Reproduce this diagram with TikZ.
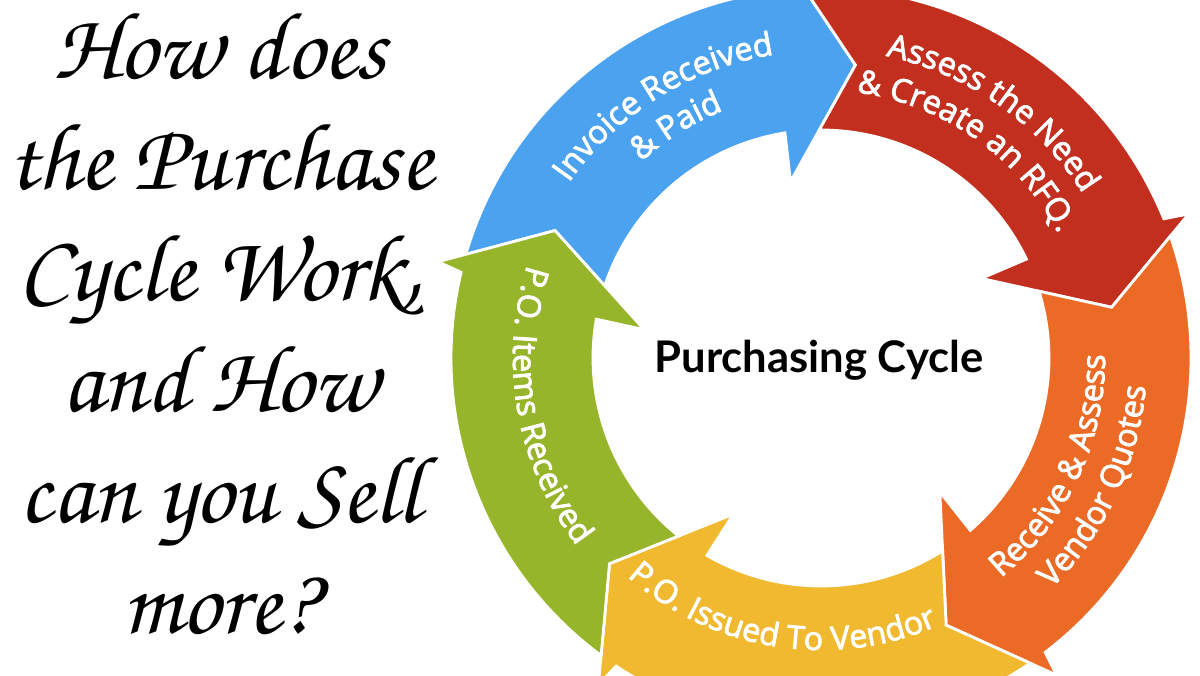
\documentclass[tikz,border=0pt]{standalone}
\usepackage{fontspec}
\usepackage{tikz}
\usetikzlibrary{decorations.text}

\newfontfamily\titlefont{texgyrechorus-mediumitalic.otf}
\newfontfamily\labelfont{Open Sans}[FakeBold=2.5]
\newfontfamily\hubfont{Lato}
\newcommand\arcfont{\labelfont\fontsize{23}{27}\selectfont}

\definecolor{invoiceblue}{HTML}{4BA2EF}
\definecolor{assessred}{HTML}{C32F1E}
\definecolor{quoteorange}{HTML}{EB6B26}
\definecolor{issueyellow}{HTML}{F0B92F}
\definecolor{itemgreen}{HTML}{97B52A}

\begin{document}
\begin{tikzpicture}[
	x = 0.25mm, y = 0.25mm,
	heading/.style = {font=\titlefont\fontsize{68}{79}\selectfont,
		align=center, inner sep=0pt, anchor=north},
	hub/.style     = {font=\hubfont\bfseries\fontsize{31}{36}\selectfont,
		inner sep=0pt, anchor=base},
	piece/.style   = {draw=white, line width=2pt, line join=miter},
	arclabel/.style = {decorate,
		decoration={text along path, text align=center, text color=white}}
	]
	\useasboundingbox (0,0) rectangle (1200,675);
	\fill[white] (0,0) rectangle (1200,675);
	\clip (0,0) rectangle (1200,675);

	% title on the left
	\node[heading] (title) at (220,662)
		{How does\\the Purchase\\Cycle Work\kern-0.04em,\\and How\\can you Sell\\more?};

	% the five arrows of the ring
	\begin{scope}[shift={(821,317)}]
		\foreach \tip/\prev/\col in {83.3/154.4/invoiceblue, 9.9/83.3/assessred,
			-64.9/9.9/quoteorange, -135.8/-64.9/issueyellow, -205.6/-135.8/itemgreen}
			\filldraw[piece, fill=\col] ({\prev+9.33}:370)
				arc[start angle=\prev+9.33, end angle=\tip+12.2, radius=370]
				-- ({\tip+11.5}:395) -- (\tip:295) -- ({\tip+16.5}:179)
				-- ({\tip+15.8}:228)
				arc[start angle=\tip+15.8, end angle=\prev+7.13, radius=228]
				-- (\prev:295) -- cycle;

		\path[arclabel, decoration={text={|\arcfont|Invoice Received}}]
			(172:307) arc[start angle=172, end angle=72, radius=307];
		\path[arclabel, decoration={text={|\arcfont|{\&} Paid}}]
			(172:266) arc[start angle=172, end angle=72, radius=266];
		\path[arclabel, decoration={text={|\arcfont|Assess the Need}}]
			(105:309) arc[start angle=105, end angle=5, radius=309];
		\path[arclabel, decoration={text={|\arcfont|{\&} Create an RFQ.}}]
			(105:268) arc[start angle=105, end angle=5, radius=268];
		\path[arclabel, decoration={text={|\arcfont|Receive {\&} Assess}}]
			(-75:284) arc[start angle=-75, end angle=25, radius=284];
		\path[arclabel, decoration={text={|\arcfont|Vendor Quotes}}]
			(-75:326) arc[start angle=-75, end angle=25, radius=326];
		\path[arclabel, decoration={text={|\arcfont|P.O. Issued To Vendor}}]
			(-150:292) arc[start angle=-150, end angle=-48, radius=292];
		\path[arclabel, decoration={text={|\arcfont|P.O. Items Received}}]
			(140:308) arc[start angle=140, end angle=240, radius=308];
	\end{scope}

	\node[hub] (cycle) at (819,302) {Purchasing Cycle};
\end{tikzpicture}
\end{document}
